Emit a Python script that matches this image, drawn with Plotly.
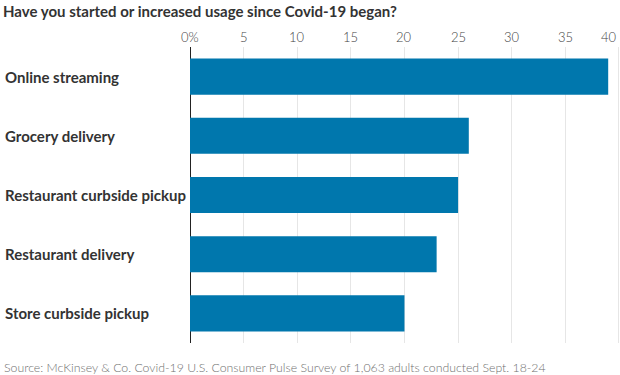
import plotly.graph_objects as go

categories = ["Online streaming", "Grocery delivery", "Restaurant curbside pickup",
              "Restaurant delivery", "Store curbside pickup"]
values = [39, 26, 25, 23, 20]
tick_vals = [0, 5, 10, 15, 20, 25, 30, 35, 40]
tick_text = ["0%", "5", "10", "15", "20", "25", "30", "35", "40"]

title = "Have you started or increased usage since Covid-19 began?"
source = "Source: McKinsey & Co. Covid-19 U.S. Consumer Pulse Survey of 1,063 adults conducted Sept. 18-24"

BAR = "#0077ad"
W, H = 620, 375
L, R, T, B = 190, 0, 47, 32
pw = W - L - R

fig = go.Figure(go.Bar(
    x=values, y=categories, orientation="h",
    marker=dict(color=BAR, line=dict(width=0)),
    hoverinfo="x+y",
))

annotations = []
for v, t in zip(tick_vals, tick_text):
    annotations.append(dict(
        x=v, xref="x", y=1, yref="paper", yanchor="middle", yshift=10,
        xanchor="right" if v == tick_vals[-1] else "center",
        text=t, showarrow=False,
        font=dict(family="Lato", size=13, color="#444", weight=300),
    ))
for c in categories:
    annotations.append(dict(
        x=-(L - 3) / pw, xref="paper", y=c, yref="y", xanchor="left", yanchor="middle",
        text=c, showarrow=False,
        font=dict(family="Lato", size=15, color="#333", weight="bold"),
    ))
annotations.append(dict(
    x=-(L - 2) / pw, xref="paper", xanchor="left",
    y=-(367 - (H - B)) / (H - T - B), yref="paper",
    yanchor="middle", text=source, showarrow=False,
    font=dict(family="Lato", size=12.3, color="#707070", weight=300),
))

fig.update_layout(
    width=W, height=H,
    margin=dict(l=L, r=R, t=T, b=B),
    paper_bgcolor="white", plot_bgcolor="white",
    bargap=0.39,
    showlegend=False,
    title=dict(text=title, x=3 / W, xref="container", xanchor="left",
               y=1 - 12 / H, yref="container", yanchor="middle",
               font=dict(family="Lato", size=15, color="#333", weight="bold")),
    xaxis=dict(range=[0, 40.1], tickvals=tick_vals, showticklabels=False,
               showgrid=True, gridcolor="#e6e6e6", gridwidth=1,
               zeroline=True, zerolinecolor="#222", zerolinewidth=1,
               showline=False, ticks="", fixedrange=True),
    yaxis=dict(categoryorder="array", categoryarray=categories[::-1],
               showticklabels=False, showgrid=False, zeroline=False,
               showline=False, ticks="", fixedrange=True),
    annotations=annotations,
)

fig.write_html("out.html", config={"displayModeBar": False},
               post_script="document.body.style.margin='0';document.body.style.padding='0';")
